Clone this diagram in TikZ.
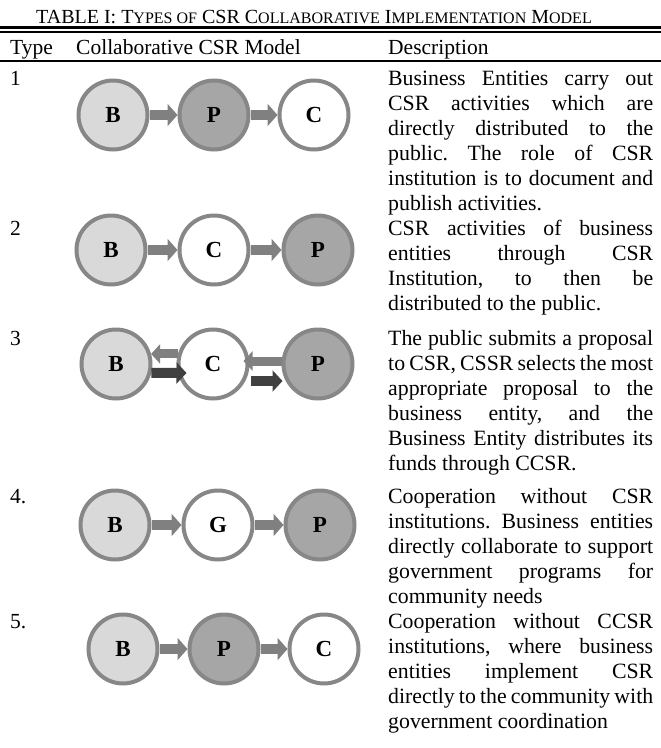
\documentclass[tikz,border=0pt]{standalone}
\usepackage{fontspec}
\setmainfont{Liberation Serif}
\usetikzlibrary{arrows.meta}
\definecolor{rimgray}{HTML}{878787}
\definecolor{businessfill}{HTML}{D9D9D9}
\definecolor{publicfill}{HTML}{A6A6A6}
\definecolor{flowgray}{HTML}{808080}
\definecolor{fundgray}{HTML}{404040}
\newcommand{\smc}[1]{{\fontsize{16}{16}\selectfont #1}}
\tolerance=10000
\hbadness=10000
\frenchspacing

\begin{document}
\begin{tikzpicture}[x=1pt, y=-1pt,
  party/.style = {shape=circle, draw=rimgray, line width=4pt,
    minimum size=69pt, inner sep=0pt,
    font=\fontsize{23}{23}\selectfont\bfseries},
  business/.style = {party, fill=businessfill},
  public/.style = {party, fill=publicfill},
  agency/.style = {party, fill=white},
  flow/.style = {draw=flowgray, line width=10pt,
    -{Triangle[length=10pt,width=22pt]}},
  request/.style = {draw=flowgray, line width=9pt,
    -{Triangle[length=9pt,width=19pt]}},
  fund/.style = {draw=fundgray, line width=10pt,
    -{Triangle[length=10pt,width=21pt]}},
  cell/.style = {inner sep=0pt, anchor=base west,
    font=\fontsize{21.5}{25}\selectfont},
  desc/.style = {inner sep=0pt, anchor=north west, text width=265pt,
    align=justify, font=\fontsize{21.8}{25}\selectfont}]
  \useasboundingbox (0,0) rectangle (661,748);

  \node[inner sep=0pt, anchor=base, font=\fontsize{20}{20}\selectfont] (title) at (314,23)
    {TABLE I: T\smc{YPES OF} CSR C\smc{OLLABORATIVE} I\smc{MPLEMENTATION} M\smc{ODEL}};
  \draw[line width=3.5pt] (0,27.25) -- (661,27.25);
  \draw[line width=2pt] (0,31.5) -- (661,31.5);
  \node[cell] (htype) at (10,54) {Type};
  \node[cell] (hmodel) at (76,54) {Collaborative CSR Model};
  \node[cell] (hdesc) at (388,54) {Description};
  \draw[line width=2pt] (0,61) -- (661,61);

  \node[cell] (t1) at (10,85) {1};
  \node[business] (b1) at (113,115) {B};
  \node[public] (p1) at (214,115) {P};
  \node[agency] (c1) at (314,115) {C};
  \draw[flow] (b1) -- (p1);
  \draw[flow] (p1) -- (c1);
  \node[desc] (d1) at (388,67.5) {\strut Business Entities carry out\linebreak
    CSR activities which are\linebreak directly distributed to the\linebreak
    public. The role of CSR\linebreak institution is to document and\linebreak
    publish activities.};

  \node[cell] (t2) at (10,235) {2};
  \node[business] (b2) at (111,250) {B};
  \node[agency] (c2) at (214,250) {C};
  \node[public] (p2) at (318,250) {P};
  \draw[flow] (b2) -- (c2);
  \draw[flow] (c2) -- (p2);
  \node[desc] (d2) at (388,217.5) {\strut CSR activities of business\linebreak
    entities through CSR\linebreak Institution, to then be\linebreak
    distributed to the public.};

  \node[cell] (t3) at (10,345) {3};
  \node[business] (b3) at (116,364) {B};
  \node[agency] (c3) at (213,364) {C};
  \node[public] (p3) at (318,364) {P};
  \draw[request] (c3.164) -- (b3.16);
  \draw[fund] (b3.-14) -- ([xshift=10pt,yshift=-9pt]c3.west);
  \draw[request] ([yshift=3pt]p3.west) -- ([xshift=-6pt,yshift=3pt]c3.east);
  \draw[fund] ([xshift=1pt,yshift=-17pt]c3.east) -- ([xshift=1pt,yshift=-17pt]p3.west);
  \node[desc] (d3) at (388,327.5) {\strut The public submits a proposal\linebreak
    to CSR, CSSR selects the most\linebreak appropriate proposal to the\linebreak
    business entity, and the\linebreak Business Entity distributes its\linebreak
    funds through CCSR.};

  \node[cell] (t4) at (10,503) {4.};
  \node[business] (b4) at (115,525) {B};
  \node[agency] (g4) at (218,525) {G};
  \node[public] (p4) at (320,525) {P};
  \draw[flow] (b4) -- (g4);
  \draw[flow] (g4) -- (p4);
  \node[desc] (d4) at (388,485.5) {\strut Cooperation without CSR\linebreak
    institutions. Business entities\linebreak directly collaborate to support\linebreak
    government programs for\linebreak community needs};

  \node[cell] (t5) at (10,628) {5.};
  \node[business] (b5) at (123,649) {B};
  \node[public] (p5) at (224,649) {P};
  \node[agency] (c5) at (324,649) {C};
  \draw[flow] (b5) -- (p5);
  \draw[flow] (p5) -- (c5);
  \node[desc] (d5) at (388,610.5) {\strut Cooperation without CCSR\linebreak
    institutions, where business\linebreak entities implement CSR\linebreak
    directly to the community with\linebreak government coordination};
\end{tikzpicture}
\end{document}
